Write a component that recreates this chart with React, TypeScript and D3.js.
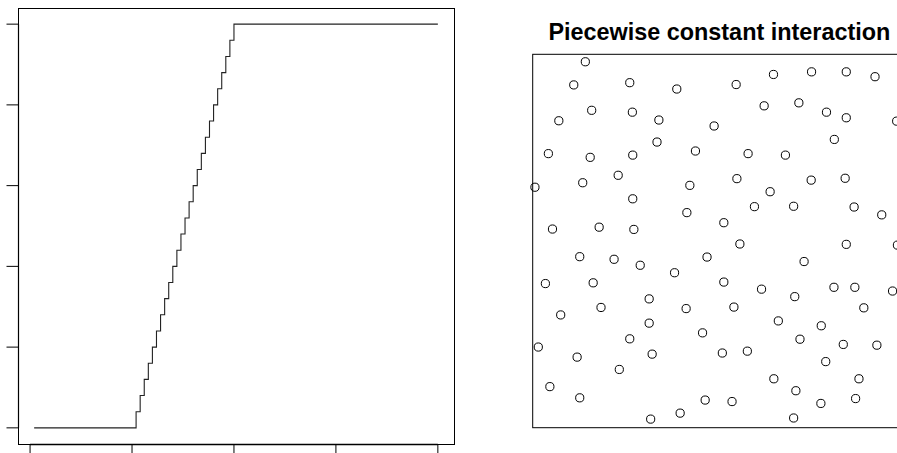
import React from 'react';
import * as d3 from 'd3';

// Left panel: step function (change points)
const stepX = [0.01, 0.26, 0.27, 0.28, 0.29, 0.30, 0.31, 0.32, 0.33, 0.34, 0.35, 0.36, 0.37, 0.38, 0.39, 0.40, 0.41, 0.42, 0.43, 0.44, 0.45, 0.46, 0.47, 0.48, 0.49, 0.50, 1.00];
const stepY = [0, 0.04, 0.08, 0.12, 0.16, 0.20, 0.24, 0.28, 0.32, 0.36, 0.40, 0.44, 0.48, 0.52, 0.56, 0.60, 0.64, 0.68, 0.72, 0.76, 0.80, 0.84, 0.88, 0.92, 0.96, 1.00, 1.00];
const leftXTicks = [0, 0.25, 0.5, 0.75, 1];
const leftYTicks = [0, 0.2, 0.4, 0.6, 0.8, 1.0];

// Right panel: scatter points
const title = 'Piecewise constant interaction';
const pointsX = [
  0.141, 0.110, 0.260, 0.386, 0.158, 0.267, 0.070, 0.338, 0.486, 0.333,
  0.042, 0.154, 0.268, 0.436, 0.229, 0.006, 0.134, 0.421, 0.268, 0.413,
  0.053, 0.178, 0.271,
  0.645, 0.747, 0.840, 0.917, 0.545, 0.620, 0.713, 0.787, 0.840, 0.975,
  0.808, 0.577, 0.677, 0.547, 0.746, 0.837, 0.636, 0.594, 0.699, 0.861,
  0.935, 0.512,
  0.126, 0.218, 0.288, 0.380, 0.467, 0.034, 0.162, 0.312, 0.411, 0.183,
  0.075, 0.312, 0.455, 0.260, 0.015, 0.119, 0.320, 0.232, 0.046, 0.126,
  0.462, 0.395, 0.316,
  0.555, 0.840, 0.977, 0.727, 0.512, 0.613, 0.702, 0.807, 0.863, 0.964,
  0.539, 0.887, 0.658, 0.773, 0.716, 0.832, 0.922, 0.508, 0.575, 0.785,
  0.646, 0.874, 0.705, 0.534, 0.772, 0.865, 0.699,
];
const pointsY = [
  0.980, 0.918, 0.924, 0.907, 0.850, 0.845, 0.822, 0.824, 0.808, 0.765,
  0.734, 0.724, 0.730, 0.741, 0.676, 0.644, 0.656, 0.649, 0.613, 0.576,
  0.532, 0.537, 0.531,
  0.946, 0.953, 0.953, 0.940, 0.919, 0.862, 0.870, 0.845, 0.830, 0.821,
  0.772, 0.734, 0.730, 0.667, 0.663, 0.668, 0.632, 0.592, 0.593, 0.591,
  0.570, 0.549,
  0.458, 0.451, 0.435, 0.415, 0.457, 0.386, 0.388, 0.345, 0.319, 0.322,
  0.302, 0.280, 0.254, 0.238, 0.216, 0.189, 0.197, 0.156, 0.110, 0.080,
  0.074, 0.039, 0.023,
  0.492, 0.491, 0.489, 0.445, 0.390, 0.371, 0.351, 0.376, 0.376, 0.366,
  0.323, 0.321, 0.286, 0.273, 0.237, 0.223, 0.221, 0.200, 0.205, 0.177,
  0.131, 0.131, 0.099, 0.070, 0.065, 0.078, 0.026,
];

const W = 897;
const H = 453;

export default function App() {
  // Left panel geometry
  const L = { x0: 18, x1: 454, y0: 8, y1: 444 };
  const [xmin, xmax] = d3.extent(stepX) as [number, number];
  const [ymin, ymax] = d3.extent(stepY) as [number, number];
  const px = (xmax - xmin) * 0.04;
  const py = (ymax - ymin) * 0.04;
  const xL = d3.scaleLinear().domain([xmin - px, xmax + px]).range([L.x0, L.x1]);
  const yL = d3.scaleLinear().domain([ymin - py, ymax + py]).range([L.y1, L.y0]);
  const stepLine = d3
    .line<number>()
    .x((_, i) => xL(stepX[i]))
    .y((_, i) => yL(stepY[i]))
    .curve(d3.curveStepAfter);
  const tickLen = 12;

  // Right panel geometry
  const R = { x0: 532.7, x1: 906, y0: 54.3, y1: 427.7 };
  const xR = d3.scaleLinear().domain([0, 1]).range([R.x0, R.x1]);
  const yR = d3.scaleLinear().domain([0, 1]).range([R.y1, R.y0]);

  return (
    <svg
      width={W}
      height={H}
      style={{ position: 'absolute', left: 0, top: 0, background: '#fff' }}
      fontFamily="'Liberation Sans', Arial, sans-serif"
    >
      <rect x={0} y={0} width={W} height={H} fill="#fff" />
      {/* Left panel */}
      <rect
        x={L.x0 + 0.5}
        y={L.y0 + 0.5}
        width={L.x1 - L.x0}
        height={L.y1 - L.y0}
        fill="none"
        stroke="#000"
        strokeWidth={1}
      />
      <path d={stepLine(stepX) || ''} fill="none" stroke="#222" strokeWidth={1.1} />
      {/* y axis */}
      <line
        x1={L.x0 + 0.5}
        x2={L.x0 + 0.5}
        y1={yL(leftYTicks[0])}
        y2={yL(leftYTicks[leftYTicks.length - 1])}
        stroke="#000"
        strokeWidth={1.2}
      />
      {leftYTicks.map((t) => (
        <line
          key={'yt' + t}
          x1={L.x0 + 0.5 - tickLen}
          x2={L.x0 + 0.5}
          y1={yL(t)}
          y2={yL(t)}
          stroke="#000"
          strokeWidth={1}
        />
      ))}
      {/* x axis */}
      <line
        x1={xL(leftXTicks[0])}
        x2={xL(leftXTicks[leftXTicks.length - 1])}
        y1={L.y1 + 0.5}
        y2={L.y1 + 0.5}
        stroke="#000"
        strokeWidth={1.4}
      />
      {leftXTicks.map((t) => (
        <line
          key={'xt' + t}
          x1={xL(t)}
          x2={xL(t)}
          y1={L.y1 + 0.5}
          y2={L.y1 + 0.5 + tickLen}
          stroke="#000"
          strokeWidth={1}
        />
      ))}

      {/* Right panel */}
      <text
        x={(R.x0 + R.x1) / 2}
        y={40.3}
        textAnchor="middle"
        fontWeight="bold"
        fontSize={23.4}
        fill="#000"
      >
        {title}
      </text>
      <rect
        x={R.x0}
        y={R.y0}
        width={R.x1 - R.x0}
        height={R.y1 - R.y0}
        fill="none"
        stroke="#000"
        strokeWidth={1}
      />
      {pointsX.map((v, i) => (
        <circle
          key={'p' + i}
          cx={xR(v)}
          cy={yR(pointsY[i])}
          r={4.1}
          fill="none"
          stroke="#000"
          strokeWidth={1}
        />
      ))}
    </svg>
  );
}
